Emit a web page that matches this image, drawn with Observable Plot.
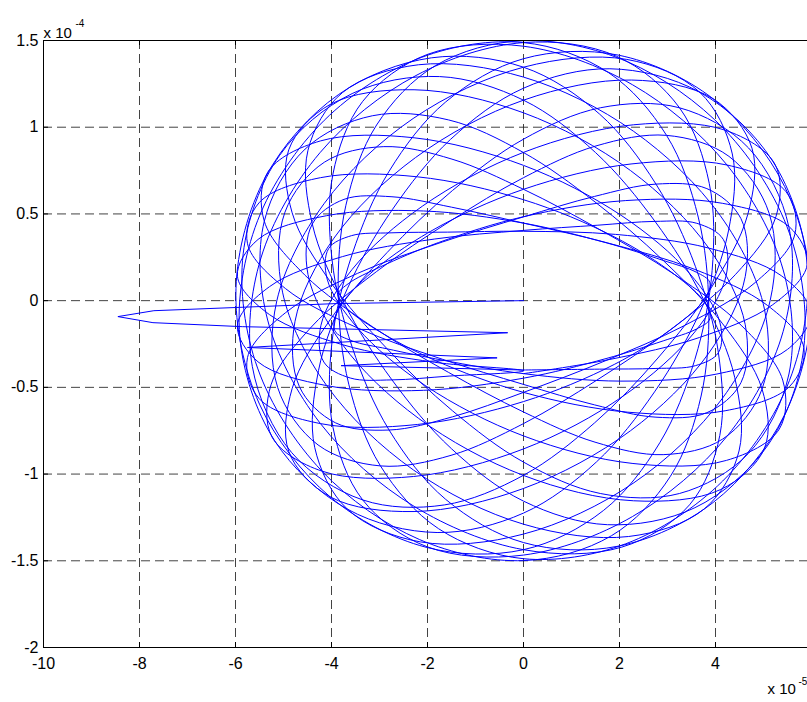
<!DOCTYPE html>
<html>
<head>
<meta charset="utf-8">
<script src="https://cdn.jsdelivr.net/npm/d3@7"></script>
<script src="https://cdn.jsdelivr.net/npm/@observablehq/plot@0.6"></script>
<style>
  html, body { margin: 0; padding: 0; background: #fff; overflow: hidden; }
  #chart svg { display: block; max-width: none !important; width: 850px !important; height: 702px !important; }
</style>
</head>
<body>
<div id="chart"></div>
<script>
// Axis ticks (x in units of 1e-5, y in units of 1e-4)
const xTicks = [-10, -8, -6, -4, -2, 0, 2, 4];
const yTicks = [-2, -1.5, -1, -0.5, 0, 0.5, 1, 1.5];
const xExponentBase = "x 10";
const xExponent = "-5";
const yExponentBase = "x 10";
const yExponent = "-4";

// Start-up transient (the long straight spikes to the left)
const transientX = [0, -3.9, -7.7, -8.45, -7.72, -5.86, -0.33, -5.75, -0.55, -3.8, 0];
const transientY = [0, -0.017, -0.058, -0.092, -0.127, -0.15, -0.185, -0.27, -0.33, -0.375, -0.40];

// Orbit samples (sixteen per revolution)
const orbitX = [
  0, 1.58, 2.76, 3.58, 4.06, 4.09, 3.46, 2.05, 0, -2.28, -4.23, -5.33, -5.40, -4.55, -3.15, -1.56,
  0, 1.49, 2.91, 4.15, 4.97, 5.02, 4.10, 2.29, 0, -2.19, -3.77, -4.49, -4.40, -3.74, -2.74, -1.50,
  0, 1.75, 3.57, 5.08, 5.84, 5.54, 4.20, 2.17, 0, -1.83, -3.06, -3.70, -3.86, -3.64, -2.98, -1.77,
  0, 2.13, 4.15, 5.54, 5.91, 5.19, 3.67, 1.80, 0, -1.52, -2.73, -3.67, -4.27, -4.35, -3.67, -2.15,
  0, 2.30, 4.15, 5.14, 5.12, 4.28, 2.98, 1.51, 0, -1.53, -3.06, -4.42, -5.26, -5.24, -4.20, -2.29,
  0, 2.10, 3.57, 4.22, 4.16, 3.61, 2.74, 1.55, 0, -1.86, -3.77, -5.29, -5.96, -5.53, -4.10, -2.08,
  0, 1.72, 2.91, 3.60, 3.88, 3.78, 3.15, 1.89, 0, -2.21, -4.23, -5.51, -5.75, -4.96, -3.46, -1.69,
  0, 1.48, 2.76, 3.82, 4.53, 4.62, 3.86, 2.23, 0, -2.28, -4.03, -4.89, -4.82, -4.03, -2.84, -1.48,
  0, 1.60, 3.25, 4.69, 5.53, 5.41, 4.24, 2.27, 0, -2.00, -3.35, -3.97, -3.99, -3.57, -2.80, -1.62,
  0, 1.97, 3.95, 5.44, 6.00, 5.44, 3.95, 1.97, 0, -1.62, -2.80, -3.57, -3.99, -3.97, -3.35, -2.00,
  0, 2.27, 4.24, 5.41, 5.53, 4.69, 3.25, 1.60, 0, -1.48, -2.84, -4.03, -4.82, -4.89, -4.03, -2.28,
  0, 2.23, 3.86, 4.62, 4.53, 3.82, 2.76, 1.48, 0, -1.69, -3.46, -4.96, -5.75, -5.51, -4.23, -2.21,
  0, 1.89, 3.15, 3.78, 3.88, 3.60, 2.91, 1.72, 0, -2.08, -4.10, -5.53, -5.96, -5.29, -3.77, -1.86,
  0, -1.55, -2.74, -3.61, -4.16, -4.22, -3.57, -2.10, 0, 2.29, 4.20, 5.24, 5.26, 4.42, 3.06, 1.53,
  0, -1.51, -2.98, -4.28, -5.12, -5.14, -4.15, -2.30, 0, 2.15, 3.67, 4.35, 4.27, 3.67, 2.73, 1.52,
  0, -1.80, -3.67, -5.19, -5.91, -5.54, -4.15, -2.13, 0, 1.77, 2.98, 3.64, 3.86, 3.70, 3.06, 1.83,
  0, -2.17, -4.20, -5.54, -5.84, -5.08, -3.57, -1.75, 0, 1.50, 2.74, 3.74, 4.40, 4.49, 3.77, 2.19,
  0, -2.29, -4.10, -5.02, -4.97, -4.15, -2.91, -1.49, 0, 1.56, 3.15, 4.55, 5.40, 5.33, 4.23, 2.28,
  0, -2.05, -3.46, -4.09, -4.06, -3.58, -2.76, -1.58, 0, 1.92, 3.86, 5.37, 5.99, 5.50, 4.03, 2.03,
  0, -1.67, -2.84, -3.57, -3.93, -3.87, -3.25, -1.94, 0, 2.24, 4.24, 5.47, 5.65, 4.83, 3.35, 1.65,
  0, -1.48, -2.80, -3.92, -4.67, -4.76, -3.95, -2.25, 0, 2.25, 3.95, 4.76, 4.67, 3.92, 2.80, 1.48,
  0, -1.65, -3.35, -4.83, -5.65, -5.47, -4.24, -2.24, 0, 1.94, 3.25, 3.87, 3.93, 3.57, 2.84, 1.67,
  0, -2.03, -4.03, -5.50, -5.99, -5.37, -3.86, -1.92, 0, 1.58, 2.76, 3.58, 4.06, 4.09, 3.46, 2.05,
  0, -2.28, -4.23, -5.33, -5.40, -4.55, -3.15, -1.56, 0, 1.49, 2.91, 4.15, 4.97, 5.02, 4.10, 2.29,
  0, -2.19, -3.77, -4.49, -4.40, -3.74, -2.74, -1.50, 0, 1.75, 3.57, 5.08, 5.84, 5.54, 4.20, 2.17,
  0, -1.83, -3.06, -3.70, -3.86, -3.64, -2.98, -1.77, 0, 2.13, 4.15, 5.54, 5.91, 5.19, 3.67, 1.80,
  0
];
const orbitY = [
  -0.400, -0.395, -0.391, -0.375, -0.300, -0.124, 0.157, 0.489, 0.780, 0.939, 0.921, 0.740, 0.458, 0.146, -0.150, -0.414,
  -0.642, -0.816, -0.888, -0.798, -0.510, -0.049, 0.490, 0.977, 1.289, 1.360, 1.200, 0.867, 0.442, -0.013, -0.457, -0.854,
  -1.156, -1.292, -1.194, -0.838, -0.270, 0.389, 0.983, 1.377, 1.499, 1.356, 1.013, 0.550, 0.036, -0.482, -0.953, -1.315,
  -1.488, -1.402, -1.040, -0.461, 0.207, 0.805, 1.202, 1.337, 1.225, 0.930, 0.526, 0.069, -0.402, -0.846, -1.202, -1.391,
  -1.346, -1.050, -0.561, 0.002, 0.502, 0.832, 0.953, 0.892, 0.709, 0.458, 0.168, -0.152, -0.485, -0.786, -0.983, -1.014,
  -0.855, -0.546, -0.180, 0.142, 0.354, 0.446, 0.457, 0.435, 0.405, 0.355, 0.254, 0.081, -0.141, -0.353, -0.490, -0.517,
  -0.447, -0.334, -0.232, -0.164, -0.106, -0.012, 0.150, 0.368, 0.582, 0.714, 0.709, 0.564, 0.328, 0.070, -0.157, -0.338,
  -0.483, -0.601, -0.672, -0.646, -0.473, -0.139, 0.303, 0.750, 1.083, 1.216, 1.131, 0.870, 0.507, 0.111, -0.278, -0.635,
  -0.931, -1.112, -1.112, -0.880, -0.423, 0.177, 0.782, 1.245, 1.467, 1.420, 1.149, 0.730, 0.239, -0.267, -0.746, -1.146,
  -1.395, -1.416, -1.164, -0.658, 0.000, 0.658, 1.164, 1.416, 1.395, 1.146, 0.746, 0.267, -0.239, -0.730, -1.149, -1.420,
  -1.467, -1.245, -0.782, -0.177, 0.423, 0.880, 1.112, 1.112, 0.931, 0.635, 0.278, -0.111, -0.507, -0.870, -1.131, -1.216,
  -1.083, -0.750, -0.303, 0.139, 0.473, 0.646, 0.672, 0.601, 0.483, 0.338, 0.157, -0.070, -0.328, -0.564, -0.709, -0.714,
  -0.582, -0.368, -0.150, 0.012, 0.106, 0.164, 0.232, 0.334, 0.447, 0.517, 0.490, 0.353, 0.141, -0.081, -0.254, -0.355,
  -0.405, -0.435, -0.457, -0.446, -0.354, -0.142, 0.180, 0.546, 0.855, 1.014, 0.983, 0.786, 0.485, 0.152, -0.168, -0.458,
  -0.709, -0.892, -0.953, -0.832, -0.502, -0.002, 0.561, 1.050, 1.346, 1.391, 1.202, 0.846, 0.402, -0.069, -0.526, -0.930,
  -1.225, -1.337, -1.202, -0.805, -0.207, 0.461, 1.040, 1.402, 1.488, 1.315, 0.953, 0.482, -0.036, -0.550, -1.013, -1.356,
  -1.499, -1.377, -0.983, -0.389, 0.270, 0.838, 1.194, 1.292, 1.156, 0.854, 0.457, 0.013, -0.442, -0.867, -1.200, -1.360,
  -1.289, -0.977, -0.490, 0.049, 0.510, 0.798, 0.888, 0.816, 0.642, 0.414, 0.150, -0.146, -0.458, -0.740, -0.921, -0.939,
  -0.780, -0.489, -0.157, 0.124, 0.300, 0.375, 0.391, 0.395, 0.400, 0.382, 0.303, 0.144, -0.071, -0.281, -0.423, -0.464,
  -0.421, -0.344, -0.278, -0.232, -0.174, -0.058, 0.142, 0.399, 0.642, 0.788, 0.782, 0.628, 0.379, 0.105, -0.144, -0.353,
  -0.529, -0.670, -0.746, -0.704, -0.495, -0.119, 0.360, 0.825, 1.156, 1.272, 1.164, 0.879, 0.495, 0.078, -0.331, -0.705,
  -1.007, -1.178, -1.149, -0.876, -0.379, 0.246, 0.853, 1.298, 1.488, 1.409, 1.112, 0.676, 0.174, -0.339, -0.819, -1.209,
  -1.436, -1.422, -1.131, -0.597, 0.071, 0.715, 1.187, 1.400, 1.346, 1.077, 0.672, 0.198, -0.300, -0.777, -1.177, -1.421,
  -1.436, -1.186, -0.709, -0.112, 0.458, 0.874, 1.066, 1.042, 0.854, 0.569, 0.232, -0.134, -0.510, -0.851, -1.090, -1.154,
  -1.008, -0.678, -0.254, 0.151, 0.442, 0.584, 0.599, 0.539, 0.447, 0.333, 0.180, -0.027, -0.270, -0.496, -0.635, -0.643,
  -0.529, -0.346, -0.168, -0.040, 0.036, 0.100, 0.195, 0.335, 0.484, 0.577, 0.561, 0.425, 0.207, -0.024, -0.212, -0.339,
  -0.421
];

const transient = transientX.map((x, i) => ({x, y: transientY[i]}));
const orbit = orbitX.map((x, i) => ({x, y: orbitY[i]}));

const font = "'Liberation Sans', Arial, Helvetica, sans-serif";
const blue = "#0000ff";

const chart = Plot.plot({
  width: 850,
  height: 702,
  marginLeft: 43,
  marginRight: 39,
  marginTop: 40,
  marginBottom: 55,
  style: {fontFamily: font, fontSize: "16px", background: "white", color: "black"},
  x: {domain: [-10, 6], label: null},
  y: {domain: [-2, 1.5], label: null},
  marks: [
    Plot.gridX(xTicks, {stroke: "#222", strokeOpacity: 0.85, strokeWidth: 1, strokeDasharray: "9,5"}),
    Plot.gridY(yTicks, {stroke: "#222", strokeOpacity: 0.85, strokeWidth: 1, strokeDasharray: "9,5"}),
    Plot.line(transient, {x: "x", y: "y", stroke: blue, strokeWidth: 1, clip: true}),
    Plot.line(orbit, {x: "x", y: "y", curve: "catmull-rom", stroke: blue, strokeWidth: 1, clip: true}),
    Plot.frame({stroke: "black", strokeWidth: 1}),
    Plot.tickX(xTicks, {x: d => d, insetTop: 602, stroke: "black"}),
    Plot.tickX(xTicks, {x: d => d, insetBottom: 602, stroke: "black"}),
    Plot.tickY(yTicks, {y: d => d, insetRight: 763, stroke: "black"}),
    Plot.axisX(xTicks, {tickSize: 0, tickPadding: 10, tickFormat: d => String(d), fontSize: 16, label: null}),
    Plot.axisY(yTicks, {tickSize: 0, tickPadding: 5, tickFormat: d => String(d), fontSize: 16, label: null}),
    Plot.text([yExponentBase], {frameAnchor: "top-left", text: d => d, textAnchor: "start", dy: -13, fontSize: 15}),
    Plot.text([yExponent], {frameAnchor: "top-left", text: d => d, textAnchor: "start", dx: 32, dy: -21, fontSize: 10}),
    Plot.text([xExponentBase], {frameAnchor: "bottom-right", text: d => d, textAnchor: "start", dx: -44, dy: 46, fontSize: 15}),
    Plot.text([xExponent], {frameAnchor: "bottom-right", text: d => d, textAnchor: "start", dx: -13, dy: 37, fontSize: 10})
  ]
});
document.getElementById("chart").appendChild(chart);
</script>
</body>
</html>
